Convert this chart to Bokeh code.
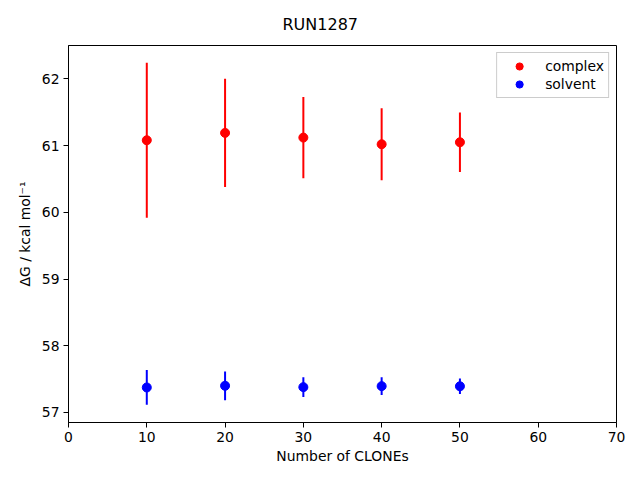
from bokeh.plotting import figure
from bokeh.models import Range1d, Legend, LegendItem, FixedTicker, ColumnDataSource
from bokeh.embed import file_html
from bokeh.resources import INLINE

clones = [10, 20, 30, 40, 50]
complex_dg = [61.08, 61.19, 61.12, 61.02, 61.05]
complex_err = [1.16, 0.81, 0.61, 0.54, 0.445]
solvent_dg = [57.375, 57.40, 57.38, 57.395, 57.393]
solvent_err = [0.26, 0.215, 0.147, 0.132, 0.115]
x_ticks = [0, 10, 20, 30, 40, 50, 60, 70]
y_ticks = [57, 58, 59, 60, 61, 62]

FONT = "DejaVu Sans"

p = figure(width=640, height=480, output_backend="svg", toolbar_location=None,
           x_range=Range1d(0, 70), y_range=Range1d(56.85, 62.5),
           min_border_left=68, min_border_right=24, min_border_top=45, min_border_bottom=58)
p.xgrid.visible = False
p.ygrid.visible = False
p.outline_line_color = "black"
p.outline_line_width = 1
p.background_fill_color = "white"
p.border_fill_color = "white"

p.title.text = "RUN1287"
p.title.align = "left"
p.title.offset = 214
p.title.standoff = 20
p.title.vertical_align = "top"
p.title.text_font = FONT
p.title.text_font_size = "16px"
p.title.text_font_style = "normal"
p.title.text_color = "black"

for ax in (p.xaxis[0], p.yaxis[0]):
    ax.major_label_text_font = FONT
    ax.major_label_text_font_size = "13.9px"
    ax.major_label_text_color = "black"
    ax.axis_label_text_font = FONT
    ax.axis_label_text_font_size = "13.9px"
    ax.axis_label_text_font_style = "normal"
    ax.axis_label_text_color = "black"
    ax.major_tick_out = 5
    ax.major_tick_in = 0
    ax.minor_tick_out = 0
    ax.minor_tick_in = 0
    ax.axis_line_color = "black"
    ax.major_tick_line_color = "black"

p.xaxis.ticker = FixedTicker(ticks=x_ticks)
p.yaxis.ticker = FixedTicker(ticks=y_ticks)
p.xaxis.axis_label = "Number of CLONEs"
p.yaxis.axis_label = "\u0394G / kcal mol\u207b\u00b9"
p.xaxis.major_label_standoff = 4
p.yaxis.major_label_standoff = 4
p.xaxis.axis_label_standoff = 3
p.yaxis.axis_label_standoff = 6

series = [("complex", complex_dg, complex_err, "red"),
          ("solvent", solvent_dg, solvent_err, "blue")]
items = []
for name, vals, errs, col in series:
    src = ColumnDataSource(dict(
        x=clones, y=vals,
        lo=[v - e for v, e in zip(vals, errs)],
        hi=[v + e for v, e in zip(vals, errs)]))
    p.segment(x0="x", y0="lo", x1="x", y1="hi", source=src, line_color=col, line_width=2)
    r = p.scatter(x="x", y="y", source=src, size=9, fill_color=col, line_color=col, marker="circle")
    items.append(LegendItem(label=name, renderers=[r]))

legend = Legend(items=items, location="top_right",
                label_text_font=FONT, label_text_font_size="13.9px", label_text_color="black",
                border_line_color="#cccccc", border_line_alpha=1.0,
                background_fill_alpha=0.8, margin=7, padding=4, spacing=0,
                glyph_width=36, glyph_height=18, label_standoff=8, label_height=18)
p.add_layout(legend)

open("out.html", "w").write(file_html(p, INLINE))
